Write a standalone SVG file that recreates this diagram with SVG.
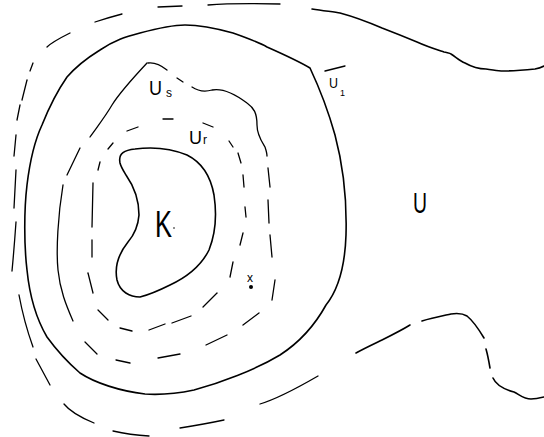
<svg xmlns="http://www.w3.org/2000/svg" width="544" height="437" viewBox="0 0 544 437">
<style>
.s{fill:none;stroke:#000;stroke-width:1.6;stroke-linecap:round;stroke-linejoin:round}
.d{fill:none;stroke:#000;stroke-width:1.3;stroke-linecap:round;stroke-linejoin:round}
.t{font-family:"Liberation Sans",Arial,sans-serif;fill:#000}
</style>
<rect width="544" height="437" fill="#fff"/>
<g id="region-U">
<path class="s" d="M312,9 C325,11 335,12 340,13 C355,17 368,22 382,28 C395,33 405,37 417,42 C428,47 438,50 444,52 C448,53 450,53 451,54 C457,58 460,61 465,63 C472,67 478,69 486,69 C494,70 498,71 503,71 C515,71 525,70 535,69 C540,68 542,67 544,66"/>
<path class="s" d="M356,353 C365,348 378,342 382,340 C392,335 402,330 410,325"/>
<path class="s" d="M422,321 C432,318 442,316 451,314 C458,313 462,313 467,316 C472,320 478,328 484,338"/>
<path class="s" d="M486,349 C488,356 489,362 490,368"/>
<path class="s" d="M493,378 C496,385 503,389 514,392 C520,395 524,399 531,399 C536,399 540,398 544,397"/>
<path class="d" d="M47,47 Q52,42 70,33"/>
<path class="d" d="M95,22 Q107,18 122,14"/>
<path class="d" d="M158,7 L182,6"/>
<path class="d" d="M208,5 Q233,3 280,4"/>
<path class="d" d="M33,63 L30,71"/>
<path class="d" d="M27,80 L22,100"/>
<path class="d" d="M20,105 L17,120"/>
<path class="d" d="M16,135 L14,156"/>
<path class="d" d="M16,170 L14,208"/>
<path class="d" d="M16,222 Q14,250 12,271"/>
<path class="d" d="M19,295 Q24,322 33,347"/>
<path class="d" d="M36,359 L50,385"/>
<path class="d" d="M64,404 Q72,414 94,423"/>
<path class="d" d="M113,431 Q130,435 149,436"/>
<path class="d" d="M180,428 Q205,424 224,420"/>
<path class="d" d="M260,404 Q280,398 318,376"/>
<text class="t" x="413" y="213" font-size="30" textLength="14" lengthAdjust="spacingAndGlyphs">U</text>
</g>
<g id="V1">
<path class="s" d="M310,68 C318,85 328,110 335,135 C343,165 347,200 346,235 C345,265 338,290 326,305 C315,325 300,342 280,355 C255,370 220,383 194,390 C175,394 160,395 145,394 C120,391 95,383 80,373 C65,360 55,348 47,337 C37,320 30,300 27,270 C24,245 24,210 27,185 C30,160 35,140 42,125 C50,105 58,90 67,77 C80,62 92,55 100,50 C115,40 125,37 140,33 C155,29 170,25 185,25 C200,25 215,28 233,33 C250,39 260,43 267,47 C285,55 300,62 310,68 Z"/>
<path class="d" d="M325,71 L345,66"/>
<text class="t" x="329" y="88" font-size="14" textLength="9" lengthAdjust="spacingAndGlyphs">U</text>
<text class="t" x="340" y="96" font-size="9">1</text>
</g>
<g id="Us">
<path class="d" d="M147,63 C133,78 120,92 112,105 C105,117 97,127 90,137"/>
<path class="d" d="M148,63 C155,62 162,66 167,70"/>
<path class="d" d="M177,78 L183,82"/>
<path class="d" d="M192,87 C198,91 205,92 212,90 C222,88 235,94 247,103 C254,108 257,113 257,125 C257,135 262,142 265,147 C266,150 267,153 267,156"/>
<path class="d" d="M268,168 L270,187"/>
<path class="d" d="M268,200 L269,223"/>
<path class="d" d="M270,235 L272,257"/>
<path class="d" d="M275,280 L272,300"/>
<path class="d" d="M259,313 L243,325"/>
<path class="d" d="M227,335 L206,345"/>
<path class="d" d="M180,354 L158,358"/>
<path class="d" d="M130,363 L116,360"/>
<path class="d" d="M97,354 L85,342"/>
<path class="d" d="M73,321 C66,305 60,290 58,270 C56,250 58,215 63,185"/>
<path class="d" d="M67,175 L80,148"/>
<text class="t" x="149" y="95" font-size="20" textLength="13" lengthAdjust="spacingAndGlyphs">U</text>
<text class="t" x="166" y="97" font-size="12">s</text>
</g>
<g id="Ur">
<path class="d" d="M127,131 L138,127"/>
<path class="d" d="M163,119 L173,119"/>
<path class="d" d="M203,123 L213,127"/>
<path class="d" d="M229,141 L233,147"/>
<path class="d" d="M238,153 L241,163"/>
<path class="d" d="M243,175 L244,187"/>
<path class="d" d="M245,207 L246,217"/>
<path class="d" d="M243,233 L240,245"/>
<path class="d" d="M233,262 L230,277"/>
<path class="d" d="M217,293 L203,307"/>
<path class="d" d="M191,316 L172,323"/>
<path class="d" d="M165,324 L149,330"/>
<path class="d" d="M132,331 L120,328"/>
<path class="d" d="M108,320 L98,310"/>
<path class="d" d="M93,293 L88,273"/>
<path class="d" d="M92,257 L92,240"/>
<path class="d" d="M92,227 L93,183"/>
<path class="d" d="M98,170 L100,162"/>
<path class="d" d="M108,149 L113,143"/>
<text class="t" x="189" y="144" font-size="19" textLength="13" lengthAdjust="spacingAndGlyphs">U</text>
<text class="t" x="203" y="144" font-size="12">r</text>
</g>
<g id="K">
<path class="s" d="M120,163 C118,153 125,150 135,149 C150,147 170,148 187,155 C203,163 211,178 214,195 C217,215 215,235 209,250 C200,268 185,278 170,285 C160,290 148,295 140,297 C130,297 120,292 117,280 C114,265 120,252 128,242 C134,235 138,228 139,215 C139,198 133,185 126,175 C123,170 121,167 120,163 Z"/>
<text class="t" x="155" y="237" font-size="37" textLength="17" lengthAdjust="spacingAndGlyphs">K</text>
<circle cx="174" cy="228" r="0.8" fill="#000"/>
</g>
<g id="point-x">
<text class="t" x="247" y="282" font-size="12">x</text>
<circle cx="251" cy="287" r="2" fill="#000"/>
</g>
</svg>
